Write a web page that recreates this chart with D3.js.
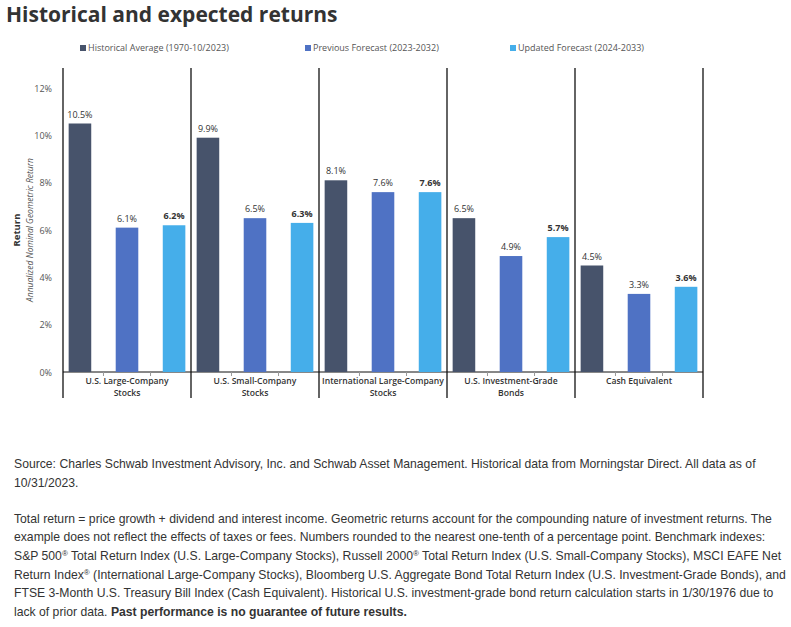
<!DOCTYPE html><html><head><meta charset="utf-8"><script src="https://cdn.jsdelivr.net/npm/d3@7"></script>
<style>body{margin:0;background:#fff;font-family:"Open Sans",Arial,sans-serif}</style></head><body><svg id="c" width="791" height="627"></svg>
<script>
const categories=[["U.S. Large-Company","Stocks"],["U.S. Small-Company","Stocks"],["International Large-Company","Stocks"],["U.S. Investment-Grade","Bonds"],["Cash Equivalent"]];
const seriesNames=["Historical Average (1970-10/2023)","Previous Forecast (2023-2032)","Updated Forecast (2024-2033)"];
const historical=[10.5,9.9,8.1,6.5,4.5];
const previous=[6.1,6.5,7.6,4.9,3.3];
const updated=[6.2,6.3,7.6,5.7,3.6];
const yTicks=[0,2,4,6,8,10,12];
const colors=["#47536b","#4f72c4","#45aeea"];
const svg=d3.select("#c");
svg.append("text").attr("x",6).attr("y",22).attr("font-size",21).attr("font-weight",700).attr("fill","#333").text("Historical and expected returns");
const y=d3.scaleLinear().domain([0,12]).range([372,88]);
const x0=d3.scaleBand().domain(d3.range(5)).range([63,703]);
const x1=d3.scaleBand().domain([0,1,2]).range([0,x0.bandwidth()]).paddingInner(0.52).paddingOuter(0.12);
svg.append("g").selectAll("text").data(yTicks).join("text").attr("x",52).attr("y",d=>y(d)+3.5).attr("text-anchor","end").attr("font-size",9).attr("fill","#555").text(d=>d+"%");
svg.append("text").attr("transform","translate(20,230) rotate(-90)").attr("text-anchor","middle").attr("font-size",9.5).attr("font-weight",700).attr("fill","#333").text("Return");
svg.append("text").attr("transform","translate(33,230) rotate(-90)").attr("text-anchor","middle").attr("font-size",8.5).attr("font-style","italic").attr("fill","#555").text("Annualized Nominal Geometric Return");
const lx=[80,305,510];
seriesNames.forEach((n,i)=>{const g=svg.append("g");g.append("rect").attr("x",lx[i]).attr("y",45).attr("width",6).attr("height",6).attr("fill",colors[i]);g.append("text").attr("x",lx[i]+8).attr("y",51).attr("font-size",9).attr("fill","#555").text(n);});
d3.range(6).forEach(i=>{const xx=i<5?x0(i):x0.range()[1];svg.append("line").attr("x1",xx).attr("x2",xx).attr("y1",68).attr("y2",398).attr("stroke","#111").attr("stroke-width",1.3);});
svg.append("line").attr("x1",63).attr("x2",703).attr("y1",372).attr("y2",372).attr("stroke","#111");
const data=[historical,previous,updated];
categories.forEach((c,ci)=>{
 const g=svg.append("g").attr("transform",`translate(${x0(ci)},0)`);
 [0,1,2].forEach(si=>{const v=data[si][ci];
  g.append("rect").attr("x",x1(si)).attr("y",y(v)).attr("width",x1.bandwidth()).attr("height",y(0)-y(v)).attr("fill",colors[si]);
  g.append("text").attr("x",x1(si)+x1.bandwidth()/2).attr("y",y(v)-6).attr("text-anchor","middle").attr("font-size",9).attr("font-weight",si==2?700:400).attr("fill","#333").text(v.toFixed(1)+"%");
  if(si>0) g.append("line").attr("x1",x1(si)-x1.step()*0.26).attr("x2",x1(si)-x1.step()*0.26).attr("y1",372).attr("y2",376).attr("stroke","#999");
 });
 c.forEach((l,li)=>g.append("text").attr("x",x0.bandwidth()/2).attr("y",384+li*11.5).attr("text-anchor","middle").attr("font-size",8.6).attr("font-weight",600).attr("fill","#333").text(l));
});
const fn=svg.append("g").attr("font-size",12.2).attr("fill","#333").attr("font-family","'Liberation Sans',Arial,sans-serif");
const lines=[[468,"Source: Charles Schwab Investment Advisory, Inc. and Schwab Asset Management. Historical data from Morningstar Direct. All data as of"],[487,"10/31/2023."],[523,"Total return = price growth + dividend and interest income. Geometric returns account for the compounding nature of investment returns. The"],[541,"example does not reflect the effects of taxes or fees. Numbers rounded to the nearest one-tenth of a percentage point. Benchmark indexes:"]];
lines.forEach(([yy,t])=>fn.append("text").attr("x",14).attr("y",yy).text(t));
const t1=fn.append("text").attr("x",14).attr("y",560);
t1.append("tspan").text("S&P 500");t1.append("tspan").attr("baseline-shift","super").attr("font-size",8).text("®");
t1.append("tspan").text(" Total Return Index (U.S. Large-Company Stocks), Russell 2000");t1.append("tspan").attr("baseline-shift","super").attr("font-size",8).text("®");
t1.append("tspan").text(" Total Return Index (U.S. Small-Company Stocks), MSCI EAFE Net");
const t2=fn.append("text").attr("x",14).attr("y",579);
t2.append("tspan").text("Return Index");t2.append("tspan").attr("baseline-shift","super").attr("font-size",8).text("®");
t2.append("tspan").text(" (International Large-Company Stocks), Bloomberg U.S. Aggregate Bond Total Return Index (U.S. Investment-Grade Bonds), and");
fn.append("text").attr("x",14).attr("y",597).text("FTSE 3-Month U.S. Treasury Bill Index (Cash Equivalent). Historical U.S. investment-grade bond return calculation starts in 1/30/1976 due to");
const t4=fn.append("text").attr("x",14).attr("y",616);
t4.append("tspan").text("lack of prior data. ");t4.append("tspan").attr("font-weight",700).text("Past performance is no guarantee of future results.");
</script></body></html>
